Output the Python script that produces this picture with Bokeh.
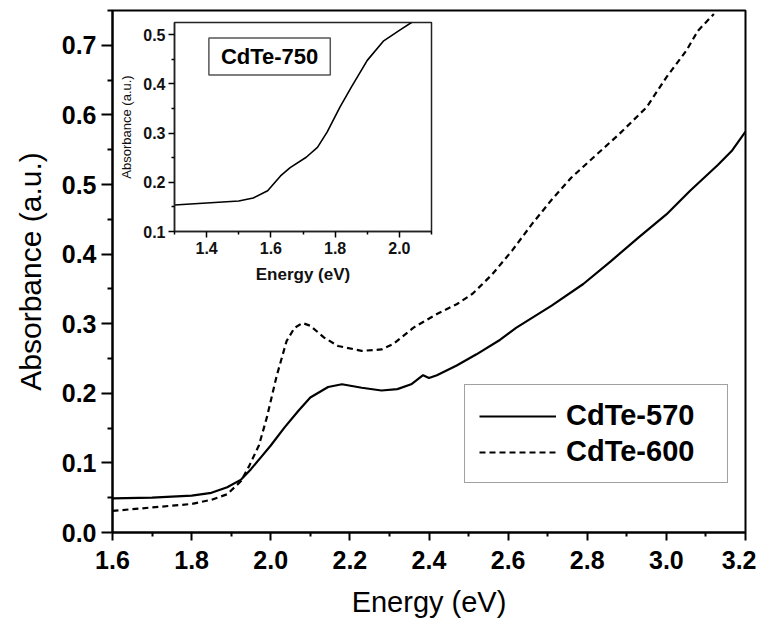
from bokeh.plotting import figure
from bokeh.models import (GridBox, Column, Legend, LegendItem, Label, FixedTicker, Range1d)
from bokeh.embed import file_html
from bokeh.resources import INLINE

# ---------------- data ----------------
x_570 = [1.60, 1.70, 1.80, 1.85, 1.89, 1.925, 1.95, 1.975, 2.00, 2.035, 2.07, 2.10,
         2.145, 2.18, 2.23, 2.28, 2.32, 2.355, 2.385, 2.40, 2.42, 2.47, 2.52, 2.58,
         2.62, 2.71, 2.79, 2.86, 2.93, 3.00, 3.06, 3.13, 3.165, 3.20]
y_570 = [0.049, 0.050, 0.053, 0.057, 0.065, 0.076, 0.091, 0.108, 0.125, 0.151, 0.175, 0.194,
         0.209, 0.213, 0.208, 0.204, 0.206, 0.213, 0.226, 0.222, 0.226, 0.240, 0.256, 0.277,
         0.294, 0.326, 0.357, 0.390, 0.424, 0.457, 0.491, 0.528, 0.548, 0.576]

x_600 = [1.60, 1.70, 1.80, 1.85, 1.89, 1.925, 1.945, 1.97, 1.99, 2.015, 2.04, 2.06, 2.08,
         2.10, 2.135, 2.17, 2.23, 2.28, 2.31, 2.36, 2.42, 2.47, 2.51, 2.56, 2.61, 2.66,
         2.71, 2.76, 2.81, 2.88, 2.95, 3.00, 3.05, 3.08, 3.12]
y_600 = [0.031, 0.036, 0.041, 0.047, 0.055, 0.074, 0.095, 0.125, 0.165, 0.225, 0.275, 0.294, 0.301,
         0.297, 0.280, 0.268, 0.261, 0.263, 0.271, 0.294, 0.314, 0.328, 0.343, 0.371, 0.405, 0.443,
         0.478, 0.510, 0.536, 0.572, 0.611, 0.654, 0.692, 0.721, 0.745]

x_750 = [1.30, 1.40, 1.50, 1.545, 1.59, 1.63, 1.66, 1.71, 1.745, 1.775, 1.815, 1.85,
         1.90, 1.95, 2.00, 2.04]
y_750 = [0.154, 0.158, 0.162, 0.168, 0.183, 0.213, 0.230, 0.251, 0.271, 0.302, 0.353, 0.393,
         0.448, 0.487, 0.509, 0.526]

main_x_ticks = [1.6, 1.8, 2.0, 2.2, 2.4, 2.6, 2.8, 3.0, 3.2]
main_x_labels = ["1.6", "1.8", "2.0", "2.2", "2.4", "2.6", "2.8", "3.0", "3.2"]
main_x_minor = [1.7, 1.9, 2.1, 2.3, 2.5, 2.7, 2.9, 3.1]
main_y_ticks = [0.0, 0.1, 0.2, 0.3, 0.4, 0.5, 0.6, 0.7]
main_y_labels = ["0.0", "0.1", "0.2", "0.3", "0.4", "0.5", "0.6", "0.7"]
main_y_minor = [0.05, 0.15, 0.25, 0.35, 0.45, 0.55, 0.65, 0.75]

inset_x_ticks = [1.4, 1.6, 1.8, 2.0]
inset_x_labels = ["1.4", "1.6", "1.8", "2.0"]
inset_x_minor = [1.3, 1.5, 1.7, 1.9, 2.1]
inset_y_ticks = [0.1, 0.2, 0.3, 0.4, 0.5]
inset_y_labels = ["0.1", "0.2", "0.3", "0.4", "0.5"]
inset_y_minor = [0.15, 0.25, 0.35, 0.45]

series_labels = ["CdTe-570", "CdTe-600"]
inset_label = "CdTe-750"
x_title = "Energy (eV)"
y_title = "Absorbance (a.u.)"

FONT = "Liberation Sans"

# ---------------- main figure ----------------
P_W, P_H = 756, 623
p = figure(width=P_W, height=P_H, x_range=Range1d(1.6, 3.2), y_range=Range1d(0.0, 0.75),
           output_backend="svg", toolbar_location=None,
           min_border_left=112, min_border_right=11, min_border_top=10, min_border_bottom=91)
p.grid.visible = False
p.outline_line_color = "black"
p.outline_line_width = 2
p.background_fill_color = "white"

for ax, ticks, labels, minor in ((p.xaxis[0], main_x_ticks, main_x_labels, main_x_minor),
                                 (p.yaxis[0], main_y_ticks, main_y_labels, main_y_minor)):
    ax.ticker = FixedTicker(ticks=ticks, minor_ticks=minor)
    ax.major_label_overrides = {t: l for t, l in zip(ticks, labels)}
    ax.axis_line_width = 2
    ax.major_tick_line_width = 2
    ax.minor_tick_line_width = 2
    ax.major_label_text_font = FONT
    ax.major_label_text_font_style = "bold"
    ax.major_label_text_font_size = "25px"
    ax.major_label_text_color = "black"
    ax.axis_label_text_font = FONT
    ax.axis_label_text_font_style = "normal"
    ax.axis_label_text_color = "black"
    ax.major_tick_in = 0
    ax.minor_tick_in = 0

p.xaxis.major_tick_out = 8
p.xaxis.minor_tick_out = 4
p.xaxis.major_label_standoff = 10
p.xaxis.axis_label = x_title
p.xaxis.axis_label_text_font_size = "29px"
p.xaxis.axis_label_standoff = 14
p.yaxis.major_tick_out = 11
p.yaxis.minor_tick_out = 5
p.yaxis.major_label_standoff = 5
p.yaxis.axis_label = y_title
p.yaxis.axis_label_text_font_size = "30px"
p.yaxis.axis_label_standoff = 12

r1 = p.line(x_570, y_570, line_color="black", line_width=2.2)
r2 = p.line(x_600, y_600, line_color="black", line_width=2.2, line_dash="6 4")

legend = Legend(items=[LegendItem(label=series_labels[0], renderers=[r1]),
                       LegendItem(label=series_labels[1], renderers=[r2])],
                location=(352, 49))
legend.label_text_font = FONT
legend.label_text_font_style = "bold"
legend.label_text_font_size = "29px"
legend.label_text_color = "black"
legend.glyph_width = 77
legend.glyph_height = 24
legend.label_standoff = 10
legend.label_width = 147
legend.padding = 14
legend.spacing = 3
legend.margin = 0
legend.border_line_color = "#444444"
legend.border_line_width = 1.5
legend.background_fill_color = "white"
legend.background_fill_alpha = 1
p.add_layout(legend)

# ---------------- inset figure ----------------
Q_LEFT, Q_TOP = 114, 14
q = figure(width=322, height=273, x_range=Range1d(1.3, 2.1), y_range=Range1d(0.1, 0.525),
           output_backend="svg", toolbar_location=None,
           min_border_left=60, min_border_right=5, min_border_top=8, min_border_bottom=56)
q.grid.visible = False
q.border_fill_alpha = 0
q.background_fill_color = "white"
q.outline_line_color = "#222222"
q.outline_line_width = 1.5

for ax, ticks, labels, minor in ((q.xaxis[0], inset_x_ticks, inset_x_labels, inset_x_minor),
                                 (q.yaxis[0], inset_y_ticks, inset_y_labels, inset_y_minor)):
    ax.ticker = FixedTicker(ticks=ticks, minor_ticks=minor)
    ax.major_label_overrides = {t: l for t, l in zip(ticks, labels)}
    ax.axis_line_width = 1.5
    ax.axis_line_color = "#222222"
    ax.major_tick_line_width = 1.5
    ax.minor_tick_line_width = 1.5
    ax.major_tick_in = 0
    ax.minor_tick_in = 0
    ax.major_tick_out = 6
    ax.minor_tick_out = 3
    ax.major_label_text_font = FONT
    ax.major_label_text_font_style = "bold"
    ax.major_label_text_font_size = "16px"
    ax.major_label_text_color = "#111111"
    ax.axis_label_text_font = FONT
    ax.axis_label_text_color = "#111111"

q.xaxis.major_label_standoff = 4
q.xaxis.axis_label = x_title
q.xaxis.axis_label_text_font_size = "17px"
q.xaxis.axis_label_text_font_style = "bold"
q.xaxis.axis_label_standoff = 8
q.yaxis.major_label_standoff = 3
q.yaxis.axis_label = y_title
q.yaxis.axis_label_text_font_size = "13px"
q.yaxis.axis_label_text_font_style = "normal"
q.yaxis.axis_label_standoff = 6

q.line(x_750, y_750, line_color="black", line_width=1.6)

tag = Label(x=1.596, y=0.456, text=inset_label, text_align="center", text_baseline="middle",
            text_font=FONT, text_font_style="bold", text_font_size="22px", text_color="black",
            border_line_color="#555555", border_line_width=1.5,
            background_fill_color="white",
            padding=dict(left=12, right=12, top=6, bottom=6))
q.add_layout(tag)

inset_box = Column(children=[q], margin=(Q_TOP, 0, 0, Q_LEFT))

grid = GridBox(children=[(p, 0, 0), (inset_box, 0, 0)])

html = file_html(grid, INLINE)
with open("out.html", "w") as f:
    f.write(html)
